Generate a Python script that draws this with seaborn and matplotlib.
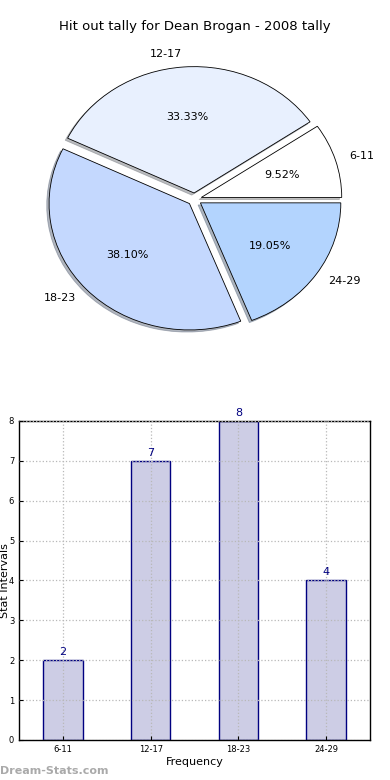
import matplotlib
matplotlib.use('Agg')
import matplotlib.pyplot as plt
import seaborn as sns
import pandas as pd

# data
intervals = ['6-11', '12-17', '18-23', '24-29']
tally = [2, 7, 8, 4]
pie_colors = ['#ffffff', '#e8f0fe', '#c4d8fe', '#b3d4fe']
title = 'Hit out tally for Dean Brogan - 2008 tally'

sns.set_style('white')
plt.rcParams['font.family'] = ['DejaVu Sans']
plt.rcParams['text.color'] = 'black'
plt.rcParams['axes.labelcolor'] = 'black'
plt.rcParams['xtick.color'] = 'black'
plt.rcParams['ytick.color'] = 'black'

fig = plt.figure(figsize=(3.9, 7.8), dpi=100)

# pie on top
ax1 = fig.add_axes([0.049, 0.542, 0.9, 0.405])
ax1.pie(tally, labels=intervals, colors=pie_colors, autopct='%1.2f%%',
        explode=[0.05] * len(tally), shadow={'ox': -0.012, 'oy': -0.012, 'shade': 0.5},
        startangle=0,
        wedgeprops={'edgecolor': 'black', 'linewidth': 0.6},
        textprops={'fontsize': 8})
ax1.set_aspect('auto')
ax1.set_xlim(-1.25, 1.25)
ax1.set_ylim(-1.25, 1.25)
ax1.set_title(title, fontsize=9.5, pad=8)

# bar chart below
ax2 = fig.add_axes([0.049, 0.0513, 0.9, 0.409])
df = pd.DataFrame({'interval': intervals, 'tally': tally})
sns.barplot(data=df, x='interval', y='tally', color='#cdcde5', saturation=1,
            edgecolor='navy', linewidth=1, width=0.45, ax=ax2)
for i, v in enumerate(tally):
    ax2.text(i, v + 0.08, str(v), ha='center', va='bottom', color='navy', fontsize=8)
ax2.set_xlim(-0.5, 3.5)
ax2.set_ylim(0, 8)
ax2.set_yticks(range(0, 9))
ax2.grid(True, linestyle=':', color='#b8b8b8', linewidth=0.9)
ax2.set_axisbelow(False)
for p in ax2.patches:
    p.set_zorder(1)
ax2.tick_params(axis='both', labelsize=6, direction='in', length=3, left=True, bottom=True)
for s in ax2.spines.values():
    s.set_color('black')
    s.set_linewidth(1)
ax2.set_xlabel('Frequency', fontsize=8, labelpad=2)
ax2.set_ylabel('Stat Intervals', fontsize=8)
ax2.yaxis.set_label_coords(-0.026, 0.5)

fig.text(0.0, 0.008, 'Dream-Stats.com', fontsize=8, color='#aaaaaa', fontweight='bold')

fig.savefig('out.png', dpi=100)
